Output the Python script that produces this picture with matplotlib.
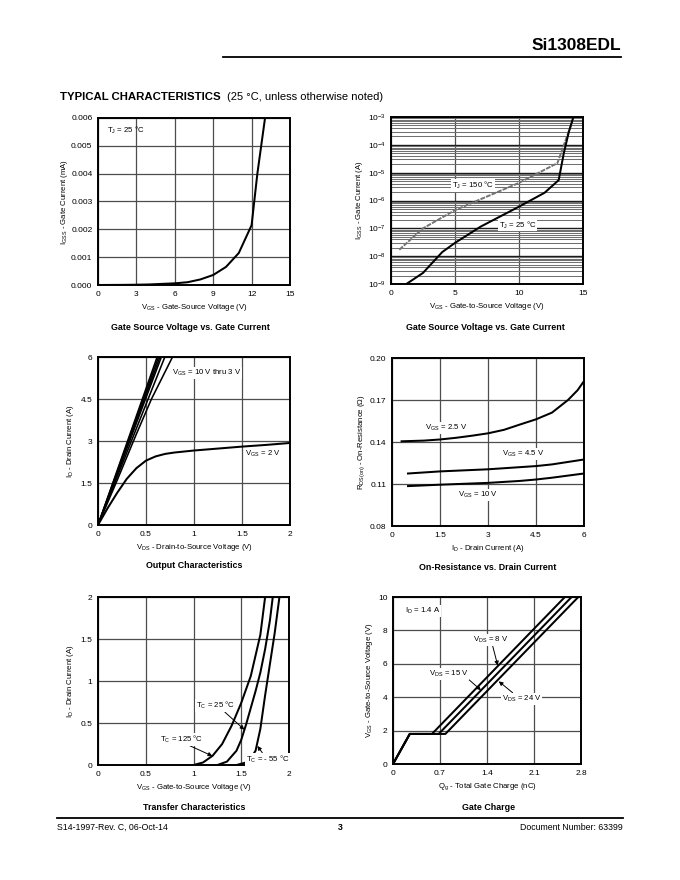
import matplotlib
matplotlib.use("Agg")
import matplotlib.pyplot as plt
from matplotlib.ticker import LogLocator, NullFormatter, FormatStrFormatter

plt.rcParams['font.family'] = ['Liberation Sans', 'DejaVu Sans']
plt.rcParams['mathtext.default'] = 'regular'

# ---------------- data ----------------
# 1) Gate current (linear) vs VGS, TJ = 25 C
g1_vgs = [0, 2, 3, 4, 5, 6, 7, 8, 9, 10, 11, 12, 12.45, 12.9, 13.05]
g1_igss = [0, 0.000005, 0.00001, 0.00002, 0.00004, 0.00006, 0.0001, 0.0002,
           0.00036, 0.00065, 0.00115, 0.00215, 0.0040, 0.0055, 0.006]

# 2) Gate current (log) vs VGS
g2_vgs_25 = [1.2, 2.5, 4.0, 5.0, 7.0, 10.0, 12.0, 13.1, 13.5, 13.9, 14.25]
g2_ig_25 = [1e-9, 2.5e-9, 1.4e-8, 3e-8, 1.15e-7, 6e-7, 1.9e-6, 5.4e-6, 5e-5, 3e-4, 1e-3]
g2_vgs_150 = [0.65, 2.5, 5.0, 10.0, 13.0, 13.6, 14.3]
g2_ig_150 = [1.7e-8, 1e-7, 4.5e-7, 4.3e-6, 2.2e-5, 1.3e-4, 1e-3]

# 3) Output characteristics
out_hi_vds = [[0, 0.616], [0, 0.630], [0, 0.645], [0, 0.660], [0, 0.696]]
out_hi_id = [0, 6]
out_3v_vds = [0, 0.2, 0.4, 0.557, 0.776]
out_3v_id = [0, 1.6, 3.25, 4.5, 6.0]
out_2v_vds = [0, 0.1, 0.2, 0.3, 0.4, 0.5, 0.6, 0.7, 0.8, 1.0, 1.25, 1.5, 1.75, 2.0]
out_2v_id = [0, 0.6, 1.15, 1.65, 2.03, 2.3, 2.45, 2.54, 2.59, 2.66, 2.73, 2.80, 2.86, 2.93]

# 4) On-resistance vs drain current
rds_id_25 = [0.3, 1.0, 1.5, 2.0, 2.5, 3.0, 3.5, 4.0, 4.5, 5.0, 5.5, 5.8, 6.0]
rds_25 = [0.1405, 0.1410, 0.1418, 0.1430, 0.1445, 0.1462, 0.1487, 0.1525, 0.1562,
          0.1610, 0.1700, 0.1770, 0.1835]
rds_id_45 = [0.5, 1.5, 3.0, 4.5, 5.0, 6.0]
rds_45 = [0.1175, 0.1190, 0.1205, 0.1228, 0.1240, 0.1275]
rds_id_10 = [0.5, 1.5, 3.0, 4.0, 4.5, 5.0, 6.0]
rds_10 = [0.1085, 0.1095, 0.1108, 0.1122, 0.1132, 0.1145, 0.1175]

# 5) Transfer characteristics
tr_vgs_125 = [1.0, 1.1, 1.2, 1.3, 1.4, 1.5, 1.6, 1.7, 1.75]
tr_id_125 = [0, 0.03, 0.11, 0.25, 0.47, 0.74, 1.06, 1.55, 2.0]
tr_vgs_25 = [1.25, 1.35, 1.45, 1.5, 1.55, 1.6, 1.65, 1.7, 1.75, 1.8, 1.83]
tr_id_25 = [0, 0.04, 0.17, 0.3, 0.48, 0.68, 0.88, 1.1, 1.38, 1.72, 2.0]
tr_vgs_m55 = [1.45, 1.55, 1.6, 1.65, 1.7, 1.75, 1.8, 1.85, 1.9]
tr_id_m55 = [0, 0.03, 0.08, 0.17, 0.43, 0.83, 1.2, 1.57, 2.0]

# 6) Gate charge
qg_8 = [0, 0.25, 0.58, 2.56]
qg_15 = [0, 0.25, 0.68, 2.66]
qg_24 = [0, 0.25, 0.78, 2.76]
qg_vgs = [0, 1.8, 1.8, 10]

# ---------------- figure ----------------
W, H = 680, 880
fig = plt.figure(figsize=(6.8, 8.8), dpi=100)


def px(x, y):
    return x / W, 1 - y / H


def make_ax(x0, y0, x1, y1):
    ax = fig.add_axes([x0 / W, 1 - y1 / H, (x1 - x0) / W, (y1 - y0) / H])
    for s in ax.spines.values():
        s.set_linewidth(1.4)
        s.set_color('black')
    ax.tick_params(length=0, labelsize=6, pad=4)
    ax.grid(True, color='#4d4d4d', linewidth=0.9)
    ax.set_axisbelow(True)
    return ax


LAB = 5.6
SUB = 6.4
LW = 1.45
BB = dict(facecolor='white', edgecolor='none', pad=0.6)

# header
fig.text(*px(621, 45), 'Si1308EDL', ha='right', va='center', fontsize=12.5, fontweight='bold')
fig.add_artist(plt.Line2D([223 / W, 621 / W], [1 - 57.5 / H, 1 - 57.5 / H],
                          color='black', linewidth=1.3))
fig.text(*px(60, 97), 'TYPICAL CHARACTERISTICS', ha='left', va='center',
         fontsize=8.2, fontweight='heavy')
fig.text(*px(227, 97), '(25 °C, unless otherwise noted)', ha='left', va='center', fontsize=8.0)

# footer
fig.add_artist(plt.Line2D([57 / W, 623 / W], [1 - 818 / H, 1 - 818 / H],
                          color='black', linewidth=1.3))
fig.text(*px(57, 827), 'S14-1997-Rev. C, 06-Oct-14', ha='left', va='center', fontsize=6.3)
fig.text(*px(340, 827), '3', ha='center', va='center', fontsize=6.3, fontweight='bold')
fig.text(*px(623, 827), 'Document Number: 63399', ha='right', va='center', fontsize=6.3)

# ---- Plot 1 ----
ax1 = make_ax(98, 118, 290, 285)
ax1.plot(g1_vgs, g1_igss, color='black', lw=LW)
ax1.set_xlim(0, 15)
ax1.set_ylim(0, 0.006)
ax1.set_xticks([0, 3, 6, 9, 12, 15])
ax1.set_yticks([0, 0.001, 0.002, 0.003, 0.004, 0.005, 0.006])
ax1.yaxis.set_major_formatter(FormatStrFormatter('%.3f'))
ax1.set_xlabel('V$_{GS}$ - Gate-Source Voltage (V)', fontsize=LAB, labelpad=3)
ax1.set_ylabel('I$_{GSS}$ - Gate Current (mA)', fontsize=LAB, labelpad=1)
ax1.text(0.7, 0.00557, 'T$_J$ = 25 °C', fontsize=LAB, va='center')
fig.text(*px(190, 327), 'Gate Source Voltage vs. Gate Current', ha='center', va='center',
         fontsize=SUB, fontweight='bold')

# ---- Plot 2 ----
ax2 = make_ax(391, 117, 583, 284)
ax2.set_yscale('log')
ax2.set_xlim(0, 15)
ax2.set_ylim(1e-9, 1e-3)
ax2.set_xticks([0, 5, 10, 15])
ax2.yaxis.set_major_locator(LogLocator(base=10, numticks=10))
ax2.yaxis.set_minor_locator(LogLocator(base=10, subs=range(2, 10), numticks=20))
ax2.yaxis.set_minor_formatter(NullFormatter())
ax2.tick_params(which='minor', length=0)
ax2.grid(True, which='major', axis='y', color='#1a1a1a', linewidth=1.0)
ax2.grid(True, which='minor', axis='y', color='#707070', linewidth=0.75)
ax2.grid(True, which='major', axis='x', color='#4d4d4d', linewidth=0.9)
ax2.plot(g2_vgs_150, g2_ig_150, color='#737373', lw=1.4, dashes=(2.5, 0.6))
ax2.plot(g2_vgs_25, g2_ig_25, color='black', lw=LW)
ax2.set_xlabel('V$_{GS}$ - Gate-to-Source Voltage (V)', fontsize=LAB, labelpad=3)
ax2.set_ylabel('I$_{GSS}$ - Gate Current (A)', fontsize=LAB, labelpad=2)
ax2.text(4.75, 10 ** -5.45, 'T$_J$ = 150 °C', fontsize=LAB, va='center', bbox=BB)
ax2.text(8.4, 10 ** -6.88, 'T$_J$ = 25 °C', fontsize=LAB, va='center', bbox=BB)
fig.text(*px(485, 327), 'Gate Source Voltage vs. Gate Current', ha='center', va='center',
         fontsize=SUB, fontweight='bold')

# ---- Plot 3 ----
ax3 = make_ax(98, 357, 290, 525)
for v in out_hi_vds:
    ax3.plot(v, out_hi_id, color='black', lw=1.15)
ax3.plot(out_3v_vds, out_3v_id, color='black', lw=1.15)
ax3.plot(out_2v_vds, out_2v_id, color='black', lw=LW)
ax3.set_xlim(0, 2)
ax3.set_ylim(0, 6)
ax3.set_xticks([0, 0.5, 1, 1.5, 2])
ax3.set_xticklabels(['0', '0.5', '1', '1.5', '2'])
ax3.set_yticks([0, 1.5, 3, 4.5, 6])
ax3.set_yticklabels(['0', '1.5', '3', '4.5', '6'])
ax3.set_xlabel('V$_{DS}$ - Drain-to-Source Voltage (V)', fontsize=LAB, labelpad=3)
ax3.set_ylabel('I$_D$ - Drain Current (A)', fontsize=LAB, labelpad=3)
ax3.text(0.77, 5.42, 'V$_{GS}$ = 10 V thru 3 V', fontsize=LAB, va='center', bbox=BB)
ax3.text(1.53, 2.54, 'V$_{GS}$ = 2 V', fontsize=LAB, va='center', bbox=BB)
fig.text(*px(194, 566), 'Output Characteristics', ha='center', va='center',
         fontsize=SUB, fontweight='bold')

# ---- Plot 4 ----
ax4 = make_ax(392, 358, 584, 526)
ax4.plot(rds_id_25, rds_25, color='black', lw=LW)
ax4.plot(rds_id_45, rds_45, color='black', lw=LW)
ax4.plot(rds_id_10, rds_10, color='black', lw=LW)
ax4.set_xlim(0, 6)
ax4.set_ylim(0.08, 0.20)
ax4.set_xticks([0, 1.5, 3, 4.5, 6])
ax4.set_xticklabels(['0', '1.5', '3', '4.5', '6'])
ax4.set_yticks([0.08, 0.11, 0.14, 0.17, 0.20])
ax4.yaxis.set_major_formatter(FormatStrFormatter('%.2f'))
ax4.set_xlabel('I$_D$ - Drain Current (A)', fontsize=LAB, labelpad=3)
ax4.set_ylabel('R$_{DS(on)}$ - On-Resistance (Ω)', fontsize=LAB, labelpad=2)
ax4.text(1.02, 0.1503, 'V$_{GS}$ = 2.5 V', fontsize=LAB, va='center', bbox=BB)
ax4.text(3.45, 0.1315, 'V$_{GS}$ = 4.5 V', fontsize=LAB, va='center', bbox=BB)
ax4.text(2.06, 0.1022, 'V$_{GS}$ = 10 V', fontsize=LAB, va='center', bbox=BB)
fig.text(*px(488, 567), 'On-Resistance vs. Drain Current', ha='center', va='center',
         fontsize=SUB, fontweight='bold')

# ---- Plot 5 ----
ax5 = make_ax(98, 597, 289, 765)
ax5.plot(tr_vgs_125, tr_id_125, color='black', lw=LW)
ax5.plot(tr_vgs_25, tr_id_25, color='black', lw=LW)
ax5.plot(tr_vgs_m55, tr_id_m55, color='black', lw=LW)
ax5.set_xlim(0, 2)
ax5.set_ylim(0, 2)
ax5.set_xticks([0, 0.5, 1, 1.5, 2])
ax5.set_xticklabels(['0', '0.5', '1', '1.5', '2'])
ax5.set_yticks([0, 0.5, 1, 1.5, 2])
ax5.set_yticklabels(['0', '0.5', '1', '1.5', '2'])
ax5.set_xlabel('V$_{GS}$ - Gate-to-Source Voltage (V)', fontsize=LAB, labelpad=3)
ax5.set_ylabel('I$_D$ - Drain Current (A)', fontsize=LAB, labelpad=3)
AP = dict(arrowstyle='-|>', color='black', lw=0.7, mutation_scale=6, shrinkA=0, shrinkB=0)
ax5.annotate('T$_C$ = 25 °C', xy=(1.533, 0.42), xytext=(1.025, 0.707), fontsize=LAB,
             va='center', ha='left', bbox=BB, arrowprops=dict(AP, relpos=(0.72, 0.0)))
ax5.annotate('T$_C$ = 125 °C', xy=(1.198, 0.107), xytext=(0.644, 0.308), fontsize=LAB,
             va='center', ha='left', bbox=BB, arrowprops=dict(AP, relpos=(0.65, 0.0)))
ax5.annotate('T$_C$ = - 55 °C', xy=(1.669, 0.227), xytext=(1.545, 0.068), fontsize=LAB,
             va='center', ha='left', bbox=BB, arrowprops=dict(AP, relpos=(0.4, 1.0)))
fig.text(*px(194, 807), 'Transfer Characteristics', ha='center', va='center',
         fontsize=SUB, fontweight='bold')

# ---- Plot 6 ----
ax6 = make_ax(393, 597, 581, 764)
ax6.plot(qg_8, qg_vgs, color='black', lw=LW)
ax6.plot(qg_15, qg_vgs, color='black', lw=LW)
ax6.plot(qg_24, qg_vgs, color='black', lw=LW)
ax6.set_xlim(0, 2.8)
ax6.set_ylim(0, 10)
ax6.set_xticks([0, 0.7, 1.4, 2.1, 2.8])
ax6.set_xticklabels(['0', '0.7', '1.4', '2.1', '2.8'])
ax6.set_yticks([0, 2, 4, 6, 8, 10])
ax6.set_xlabel('Q$_g$ - Total Gate Charge (nC)', fontsize=LAB, labelpad=3)
ax6.set_ylabel('V$_{GS}$ - Gate-to-Source Voltage (V)', fontsize=LAB, labelpad=2)
ax6.text(0.175, 9.16, 'I$_D$ = 1.4 A', fontsize=LAB, va='center', bbox=BB)
ax6.annotate('V$_{DS}$ = 8 V', xy=(1.56, 5.9), xytext=(1.19, 7.44), fontsize=LAB,
             va='center', ha='left', bbox=BB, arrowprops=dict(AP, relpos=(0.55, 0.0)))
ax6.annotate('V$_{DS}$ = 15 V', xy=(1.31, 4.42), xytext=(0.53, 5.37), fontsize=LAB,
             va='center', ha='left', bbox=BB, arrowprops=dict(AP, relpos=(0.95, 0.2)))
ax6.annotate('V$_{DS}$ = 24 V', xy=(1.575, 4.95), xytext=(1.62, 3.91), fontsize=LAB,
             va='center', ha='left', bbox=BB, arrowprops=dict(AP, relpos=(0.3, 1.0)))
fig.text(*px(489, 807), 'Gate Charge', ha='center', va='center',
         fontsize=SUB, fontweight='bold')

fig.savefig('out.png', dpi=100, facecolor='white')
